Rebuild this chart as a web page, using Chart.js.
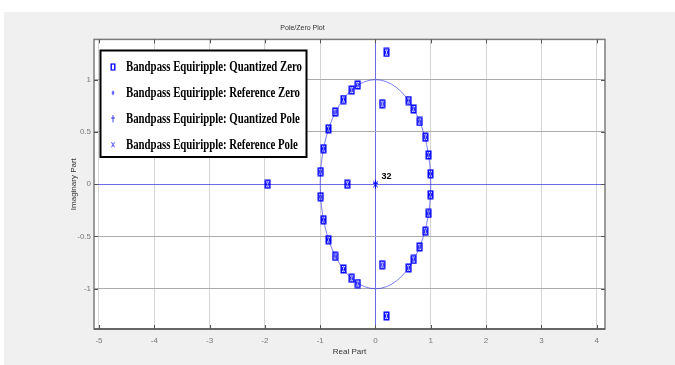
<!DOCTYPE html>
<html><head><meta charset="utf-8">
<script src="https://cdn.jsdelivr.net/npm/chart.js@4.4.0/dist/chart.umd.min.js"></script>
<style>html,body{margin:0;padding:0;background:#fff;}#wrap{width:675px;height:365px;}</style>
</head><body><div id="wrap"><canvas id="c" width="675" height="365"></canvas></div>
<script>
// ---- data ----
const zeroRe = [0.20, 0.12, -0.32, -0.43, -0.58, -0.73, -0.85, -0.94, -0.99, 0.60, 0.69, 0.80, 0.90, 0.96, 0.995,
                -1.95, -0.51,
                0.20, 0.12, -0.32, -0.43, -0.58, -0.73, -0.85, -0.94, -0.99, 0.60, 0.69, 0.80, 0.90, 0.96, 0.995];
const zeroIm = [1.26, 0.77, 0.95, 0.90, 0.81, 0.69, 0.53, 0.34, 0.12, 0.80, 0.72, 0.60, 0.45, 0.28, 0.10,
                0, 0,
                -1.26, -0.77, -0.95, -0.90, -0.81, -0.69, -0.53, -0.34, -0.12, -0.80, -0.72, -0.60, -0.45, -0.28, -0.10];
const poleRe = [0];
const poleIm = [0];
const poleMultiplicity = [32];
const seriesLabels = ['Bandpass Equiripple: Quantized Zero', 'Bandpass Equiripple: Reference Zero',
                      'Bandpass Equiripple: Quantized Pole', 'Bandpass Equiripple: Reference Pole'];
const xTicks = [-5, -4, -3, -2, -1, 0, 1, 2, 3, 4];
const xTickLabels = ['-5', '-4', '-3', '-2', '-1', '0', '1', '2', '3', '4'];
const yTicks = [-1, -0.5, 0, 0.5, 1];
const yTickLabels = ['-1', '-0.5', '0', '0.5', '1'];
const xMin = -5.09, xMax = 4.15, yMin = -1.385, yMax = 1.385;

// ---- marker glyphs ----
const BLUE = '#0000ff';
function mk(w, h, fn) { const c = document.createElement('canvas'); c.width = w; c.height = h; const g = c.getContext('2d'); g.strokeStyle = BLUE; fn(g); return c; }
const mRect = mk(7, 10, g => { g.lineWidth = 1.5; g.strokeRect(1.25, 1.25, 4.5, 7.5); });
const mOval = mk(7, 10, g => { g.lineWidth = 1; g.beginPath(); g.ellipse(3.5, 5, 1.1, 2.2, 0, 0, Math.PI * 2); g.stroke(); });
const mPlus = mk(7, 11, g => { g.lineWidth = 1; g.beginPath(); g.moveTo(3.5, 1); g.lineTo(3.5, 10); g.moveTo(1, 4.5); g.lineTo(6, 4.5); g.stroke(); });
const mX = mk(7, 11, g => { g.lineWidth = 1; g.beginPath(); g.moveTo(1.5, 2.5); g.lineTo(5.5, 8.5); g.moveTo(5.5, 2.5); g.lineTo(1.5, 8.5); g.stroke(); });
const glyphs = [mRect, mOval, mPlus, mX];

const pts = (xs, ys) => xs.map((v, i) => ({ x: v, y: ys[i] }));

const SANS = '"Liberation Sans Narrow", "Liberation Sans", Arial, sans-serif';

const decor = {
  id: 'decor',
  beforeDraw(chart) {
    const { ctx, chartArea: a } = chart;
    ctx.save();
    ctx.fillStyle = '#ffffff'; ctx.fillRect(0, 0, chart.width, chart.height);
    ctx.fillStyle = '#f0f0f0'; ctx.fillRect(4, 12, chart.width - 4, chart.height - 12);
    ctx.fillStyle = '#ffffff'; ctx.fillRect(a.left, a.top, a.right - a.left, a.bottom - a.top);
    ctx.restore();
  },
  beforeDatasetsDraw(chart) {
    const { ctx, scales: { x, y } } = chart;
    const cx = x.getPixelForValue(0), cy = y.getPixelForValue(0);
    const rx = x.getPixelForValue(1) - cx, ry = cy - y.getPixelForValue(1);
    ctx.save();
    ctx.strokeStyle = 'rgba(40,40,235,0.6)'; ctx.lineWidth = 1;
    ctx.beginPath(); ctx.ellipse(cx, cy, rx, ry, 0, 0, Math.PI * 2); ctx.stroke();
    ctx.restore();
  },
  afterDatasetsDraw(chart) {
    const { ctx, scales: { x, y } } = chart;
    ctx.save();
    ctx.fillStyle = '#000'; ctx.font = 'bold 9px ' + SANS; ctx.textBaseline = 'middle'; ctx.textAlign = 'left';
    poleRe.forEach((v, i) => {
      ctx.fillText(String(poleMultiplicity[i]), x.getPixelForValue(v) + 6, y.getPixelForValue(poleIm[i]) - 7.5);
    });
    ctx.restore();
  },
  afterDraw(chart) {
    const { ctx, chartArea: a, scales: { x, y } } = chart;
    ctx.save();
    // frame
    ctx.strokeStyle = '#7c7c7c'; ctx.lineWidth = 1.5;
    ctx.strokeRect(a.left, a.top, a.right - a.left, a.bottom - a.top);
    ctx.strokeStyle = '#666'; ctx.lineWidth = 2;
    ctx.beginPath(); ctx.moveTo(a.left, a.bottom); ctx.lineTo(a.right, a.bottom); ctx.stroke();
    // inner ticks
    ctx.strokeStyle = '#555'; ctx.lineWidth = 1;
    ctx.beginPath();
    xTicks.forEach(v => { const p = Math.round(x.getPixelForValue(v)) + 0.5; ctx.moveTo(p, a.bottom); ctx.lineTo(p, a.bottom - 4); ctx.moveTo(p, a.top); ctx.lineTo(p, a.top + 4); });
    yTicks.forEach(v => { const p = Math.round(y.getPixelForValue(v)) + 0.5; ctx.moveTo(a.left, p); ctx.lineTo(a.left + 4, p); ctx.moveTo(a.right, p); ctx.lineTo(a.right - 4, p); });
    ctx.stroke();
    // legend
    const lx = 100.5, ly = 50.5, lw = 206, lh = 106.5;
    ctx.fillStyle = '#fff'; ctx.fillRect(lx, ly, lw, lh);
    ctx.strokeStyle = '#000'; ctx.lineWidth = 2; ctx.strokeRect(lx, ly, lw, lh);
    ctx.font = 'bold 15px "Liberation Serif", "Times New Roman", serif';
    ctx.fillStyle = '#000'; ctx.textBaseline = 'middle'; ctx.textAlign = 'left';
    const s = 176 / ctx.measureText(seriesLabels[0]).width;
    chart.data.datasets.forEach((ds, i) => {
      const ry = ly + 16.5 + i * 25.9;
      const g = glyphs[i];
      const gw = g.width * 0.8, gh = g.height * 0.8;
      ctx.drawImage(g, 113 - gw / 2, ry - gh / 2, gw, gh);
      ctx.save(); ctx.translate(126, ry + 0.5); ctx.scale(s, 1); ctx.fillText(ds.label, 0, 0); ctx.restore();
    });
    ctx.restore();
  }
};

const zeroLineBlue = 'rgba(60,60,225,0.75)';
new Chart(document.getElementById('c'), {
  type: 'scatter',
  data: {
    datasets: [
      { label: seriesLabels[0], data: pts(zeroRe, zeroIm), pointStyle: mRect, pointRadius: 4, borderColor: BLUE, backgroundColor: BLUE },
      { label: seriesLabels[1], data: pts(zeroRe, zeroIm), pointStyle: mOval, pointRadius: 4, borderColor: BLUE, backgroundColor: BLUE },
      { label: seriesLabels[2], data: pts(poleRe, poleIm), pointStyle: mPlus, pointRadius: 4, borderColor: BLUE, backgroundColor: BLUE },
      { label: seriesLabels[3], data: pts(poleRe, poleIm), pointStyle: mX, pointRadius: 4, borderColor: BLUE, backgroundColor: BLUE }
    ]
  },
  options: {
    responsive: false, animation: false, devicePixelRatio: 1,
    layout: { padding: { top: 15, right: 70, left: 0, bottom: 0 } },
    plugins: {
      legend: { display: false }, tooltip: { enabled: false },
      title: { display: true, text: 'Pole/Zero Plot', color: '#333', font: { family: SANS, size: 7, weight: 'normal' }, padding: { top: 9, bottom: 7 } }
    },
    scales: {
      x: {
        type: 'linear', min: xMin, max: xMax,
        afterBuildTicks: s => { s.ticks = xTicks.map(v => ({ value: v })); },
        afterFit: s => { s.height = 36; },
        grid: { color: c => (c.tick && c.tick.value === 0) ? zeroLineBlue : '#d4d4d4', lineWidth: 1, drawTicks: false },
        border: { display: false },
        ticks: { padding: 7, color: '#777', font: { family: SANS, size: 8 }, maxRotation: 0, autoSkip: false,
                 callback: v => xTickLabels[xTicks.indexOf(v)] },
        title: { display: true, text: 'Real Part', color: '#333', font: { family: SANS, size: 8 }, padding: { top: 0, bottom: 8 } }
      },
      y: {
        type: 'linear', min: yMin, max: yMax,
        afterBuildTicks: s => { s.ticks = yTicks.map(v => ({ value: v })); },
        afterFit: s => { s.width = 94; },
        grid: { color: c => (c.tick && c.tick.value === 0) ? zeroLineBlue : '#ababab', lineWidth: 1, drawTicks: false },
        border: { display: false },
        ticks: { padding: 3, color: '#777', font: { family: SANS, size: 8 }, autoSkip: false,
                 callback: v => yTickLabels[yTicks.indexOf(v)] },
        title: { display: true, text: 'Imaginary Part', color: '#333', font: { family: SANS, size: 8 }, padding: { top: 69, bottom: 0 } }
      }
    }
  },
  plugins: [decor]
});
</script>
</body></html>
